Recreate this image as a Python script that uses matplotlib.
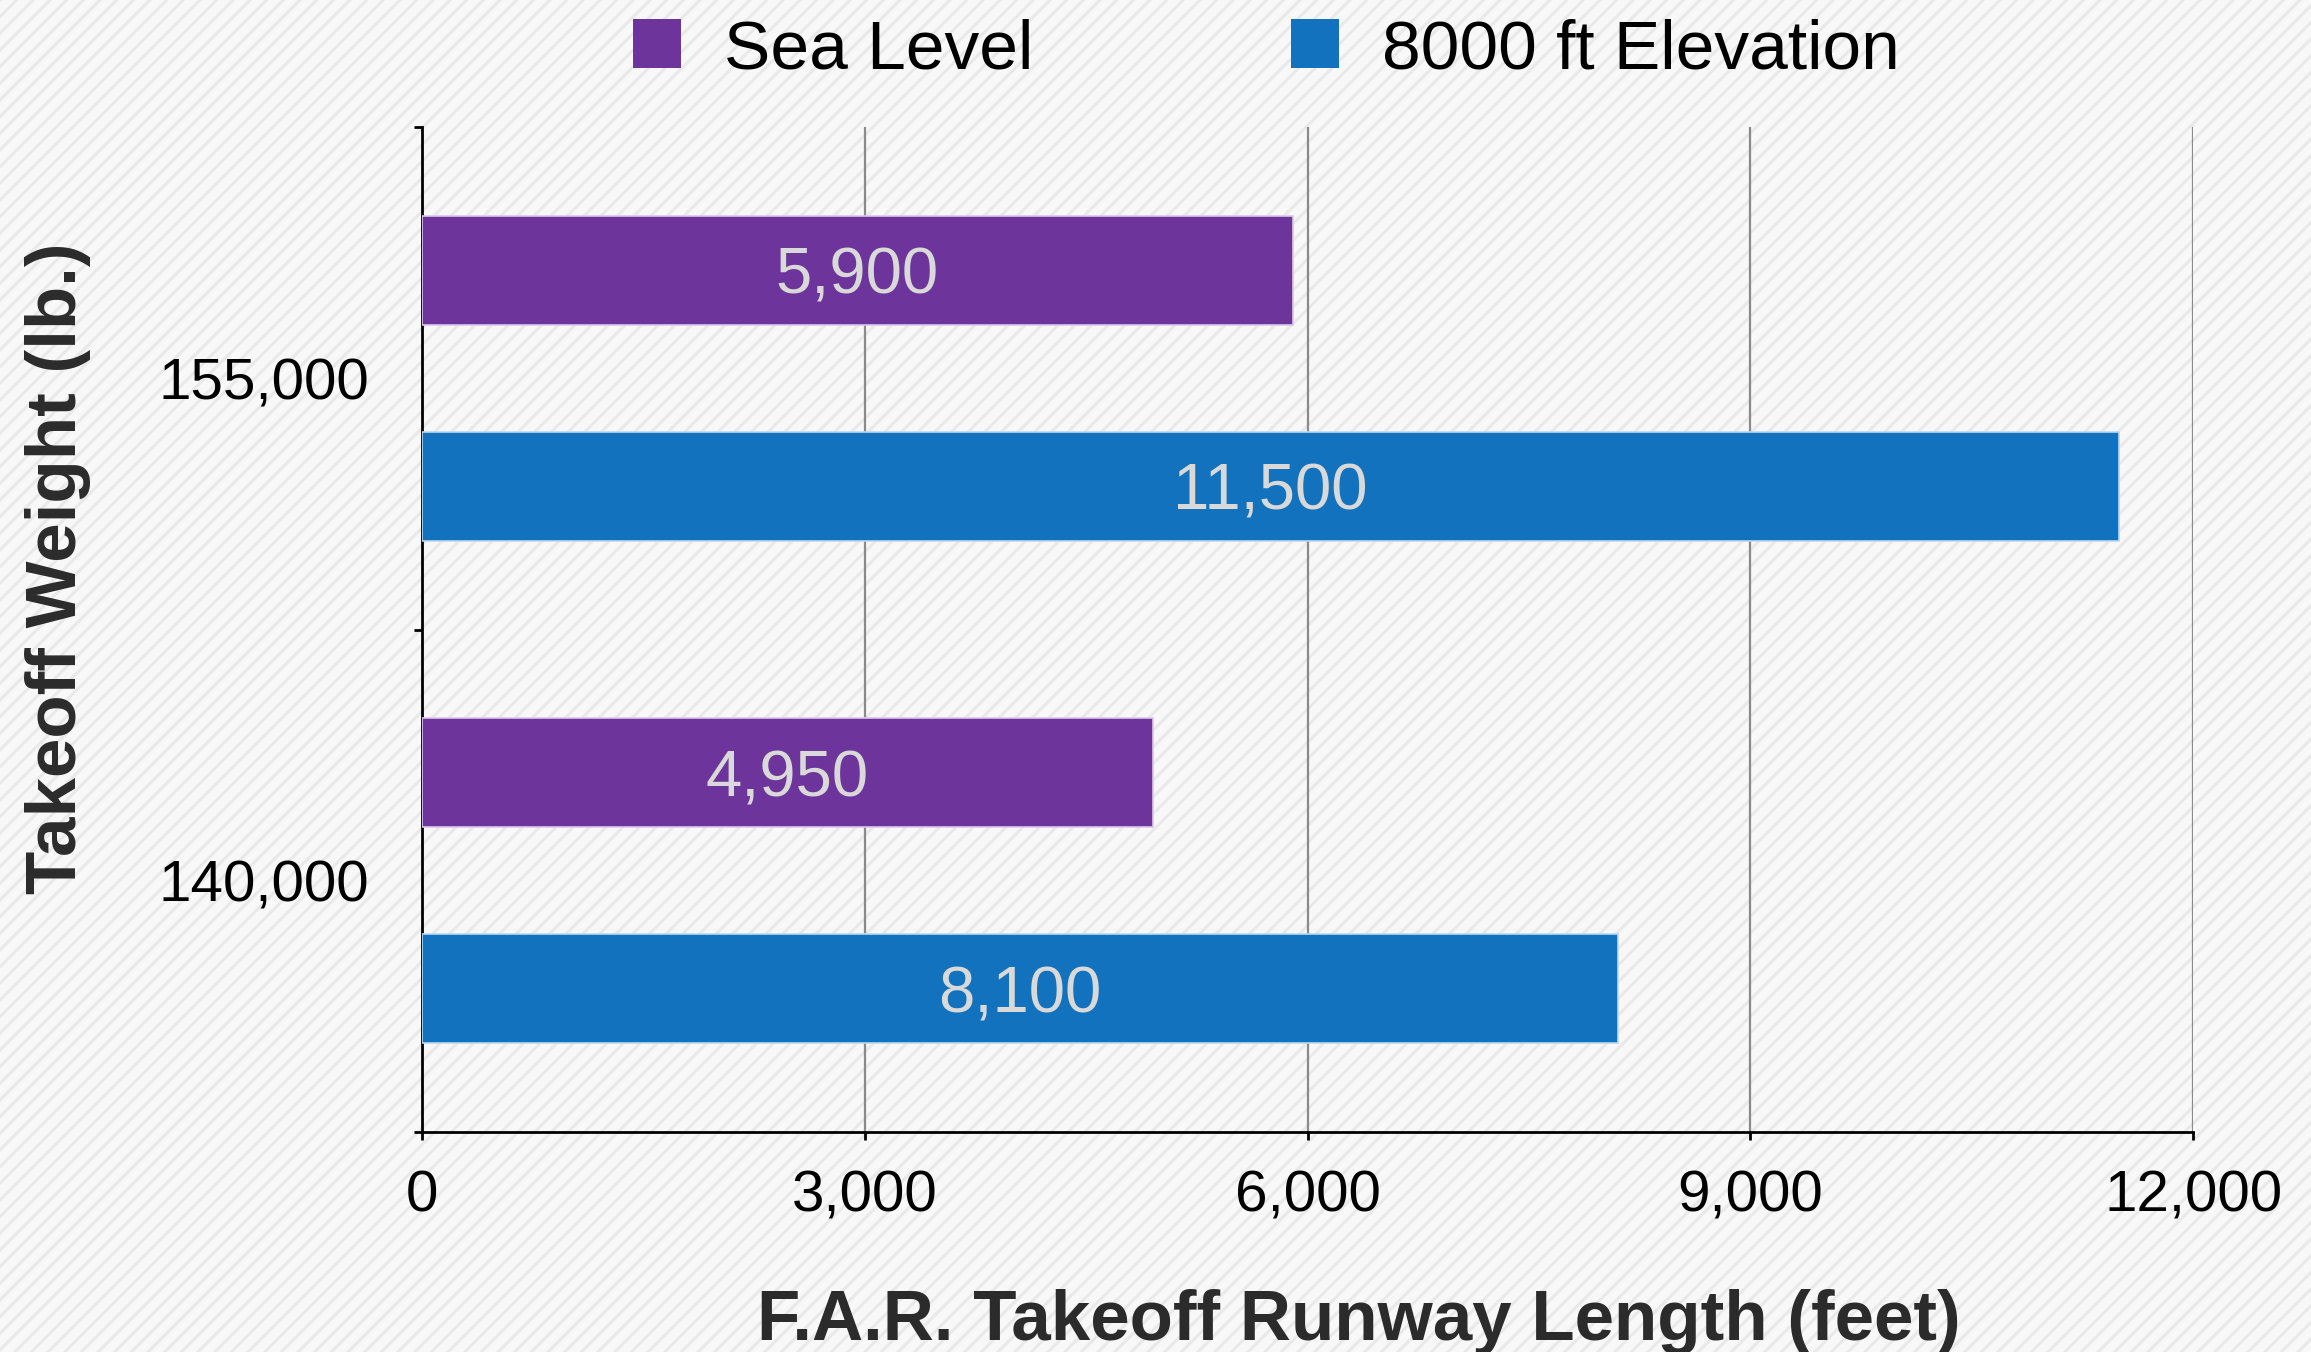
import matplotlib
matplotlib.use('Agg')
import matplotlib.pyplot as plt
from matplotlib.patches import Rectangle, Patch
import numpy as np

plt.rcParams['font.family'] = ['Liberation Sans', 'DejaVu Sans']
plt.rcParams['hatch.color'] = '#e9e9e9'
plt.rcParams['hatch.linewidth'] = 2.2

# runway length data
weights = ['140,000', '155,000']
sea_level = [4950, 5900]
elevation = [8100, 11500]
series_names = ['Sea Level', '8000 ft Elevation']
x_ticks = [0, 3000, 6000, 9000, 12000]

purple = '#6d359b'
blue = '#1272bd'

fig = plt.figure(figsize=(23.11, 13.52), dpi=100)
fig.patch.set_facecolor('#f8f8f8')
# striped background
fig.patches.append(Rectangle((0, 0), 1, 1, transform=fig.transFigure,
                             facecolor='#f8f8f8', edgecolor='#e9e9e9',
                             hatch='//', linewidth=0, zorder=-10))

ax = fig.add_axes([0.1826, 0.1627, 0.949 - 0.1826, 0.906 - 0.1627])
ax.patch.set_alpha(0)

centers = np.arange(len(weights)) + 0.5
h = 0.217
off = 0.215
b1 = ax.barh(centers + off, sea_level, height=h, color=purple,
             edgecolor='#d9c9e8', linewidth=1.2, zorder=3)
b2 = ax.barh(centers - off, elevation, height=h, color=blue,
             edgecolor='#bcd8ef', linewidth=1.2, zorder=3)

for bars, vals in [(b1, sea_level), (b2, elevation)]:
    for bar, v in zip(bars, vals):
        ax.text(v / 2, bar.get_y() + bar.get_height() / 2, f'{v:,}',
                ha='center', va='center_baseline', color='#d9d9d9',
                fontsize=47, zorder=4)

ax.set_xlim(0, 12000)
ax.set_ylim(0, 2)
ax.set_xticks(x_ticks)
ax.set_xticklabels([f'{t:,}' for t in x_ticks])
ax.set_yticks([0, 1, 2])
ax.set_yticklabels([])
ax.set_yticks(centers, minor=True)
ax.set_yticklabels(weights, minor=True)

ax.xaxis.grid(True, color='#8a8a8a', linewidth=1.6, zorder=1)
ax.set_axisbelow(True)
for s in ['top', 'right']:
    ax.spines[s].set_visible(False)
for s in ['left', 'bottom']:
    ax.spines[s].set_linewidth(2)
    ax.spines[s].set_color('black')

ax.tick_params(axis='both', which='major', direction='out', length=6,
               width=2, labelsize=42, colors='black')
ax.tick_params(axis='x', pad=21)
ax.tick_params(axis='y', which='minor', length=0, pad=38, labelsize=42)

fig.text(0.588, 0.022, 'F.A.R. Takeoff Runway Length (feet)', ha='center',
         va='center', fontsize=51, fontweight='bold', color='#2b2b2b')
fig.text(0.025, 0.58, 'Takeoff Weight (lb.)', ha='center', va='center',
         rotation=90, fontsize=51, fontweight='bold', color='#2b2b2b')

handles = [Patch(facecolor=purple), Patch(facecolor=blue)]
fig.legend(handles, series_names, loc='center', ncol=2,
           bbox_to_anchor=(0.548, 0.963), frameon=False, fontsize=50,
           handlelength=0.7, handleheight=0.7, handletextpad=0.62,
           columnspacing=3.7)

fig.savefig('out.png', dpi=100, facecolor=fig.get_facecolor())
